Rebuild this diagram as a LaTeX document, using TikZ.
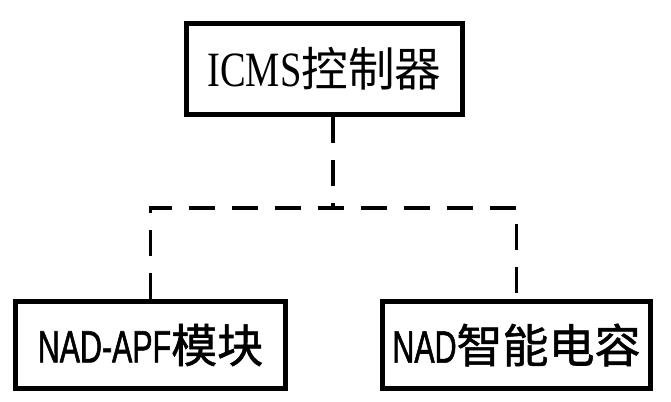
\documentclass[tikz,border=0pt]{standalone}
\usepackage{fontspec}
\newfontfamily\cjk{Noto Sans CJK SC}
\newfontfamily\cjkheavy[FakeBold=1.2]{Noto Sans CJK SC}
\newfontfamily\latserif[FakeStretch=0.78]{Liberation Serif}
\newfontfamily\latsans[FakeStretch=0.67,FakeBold=1.2]{Liberation Sans}

\tikzset{
  box/.style={draw, line width=3.75pt, rectangle, inner sep=0pt},
  link/.style={line width=2.6pt, dash pattern=on 19.5pt off 12.75pt}
}

\begin{document}
\begin{tikzpicture}[x=0.75pt,y=-0.75pt]
    \useasboundingbox (0,0) rectangle (671,402);

    % controller on top, two devices below
    \node[box, minimum width=207pt, minimum height=68.25pt] (icms) at (324.5,69)
        {{\fontsize{37pt}{37pt}\latserif ICMS}{\fontsize{35pt}{37pt}\cjk 控制器}};
    \node[box, minimum width=202.5pt, minimum height=65.25pt] (apf) at (150.5,345)
        {{\fontsize{34pt}{36pt}\latsans NAD-APF}{\fontsize{34.5pt}{36pt}\cjkheavy 模块}};
    \node[box, minimum width=201pt, minimum height=65.25pt] (cap) at (516.5,345)
        {{\fontsize{34pt}{36pt}\latsans NAD}{\fontsize{34.5pt}{36pt}\cjkheavy 智能电容}};

    \coordinate (joint) at (333,208);

    \draw[link] (icms.south -| joint) -- (joint);
    \draw[link] (apf.north) -- (apf.north |- joint) -- (cap.north |- joint) -- (cap.north);

\end{tikzpicture}
\end{document}
